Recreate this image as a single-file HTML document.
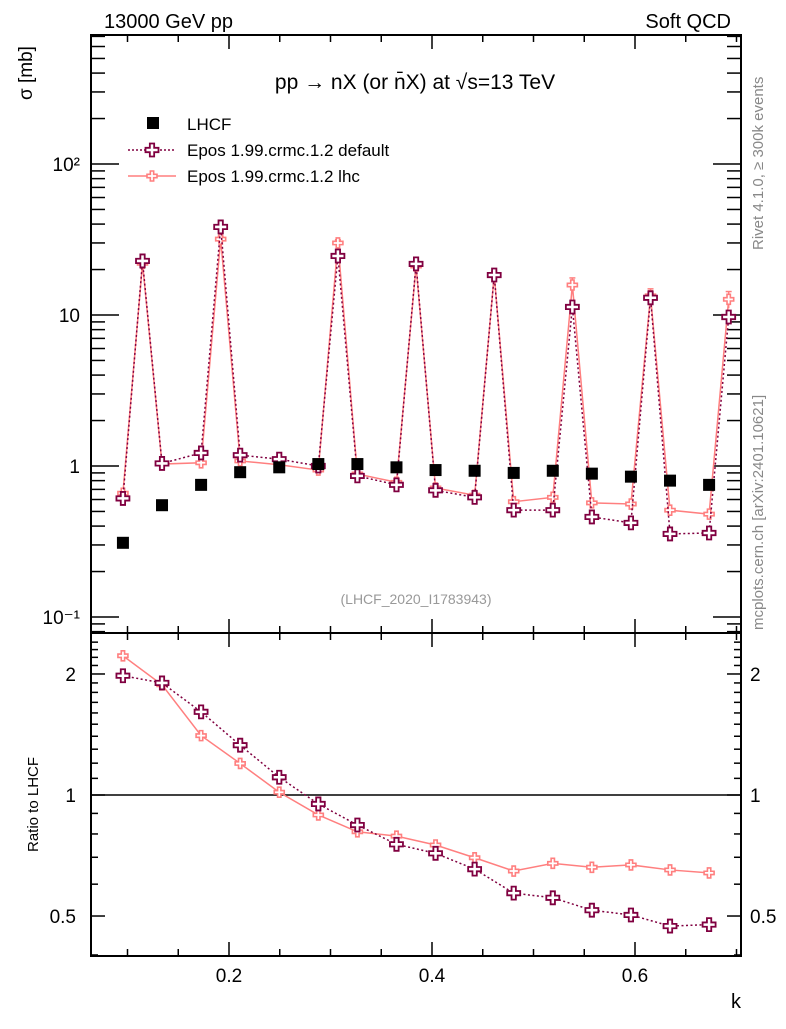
<!DOCTYPE html>
<html><head><meta charset="utf-8"><style>
body{margin:0;background:#fff}
svg text{font-family:"Liberation Sans","DejaVu Sans",sans-serif}
</style></head><body>
<svg id="c" width="786" height="1024" xmlns="http://www.w3.org/2000/svg">
<text x="104" y="28" font-size="20">13000 GeV pp</text>
<text x="731" y="28" font-size="20" text-anchor="end">Soft QCD</text>
<text x="415" y="89" font-size="21" text-anchor="middle">pp → nX (or n̄X) at √s=13 TeV</text>
<text transform="translate(32,100) rotate(-90)" font-size="19">σ [mb]</text>
<text transform="translate(38,852) rotate(-90)" font-size="15">Ratio to LHCF</text>
<text x="741" y="1008" font-size="20" text-anchor="end">k</text>
<text transform="translate(763,250) rotate(-90)" font-size="15" fill="#888">Rivet 4.1.0, ≥ 300k events</text>
<text transform="translate(763,630) rotate(-90)" font-size="15" fill="#888">mcplots.cern.ch [arXiv:2401.10621]</text>
<text x="416" y="604" font-size="14" fill="#999" text-anchor="middle">(LHCF_2020_I1783943)</text>
<g id="legend">
<rect x="147" y="117" width="12" height="12" fill="#000"/>
<text x="187" y="130" font-size="17">LHCF</text>
<line x1="128" y1="150" x2="176" y2="150" stroke="#800040" stroke-width="1.5" stroke-dasharray="2,2"/>
<text x="187" y="156" font-size="17">Epos 1.99.crmc.1.2 default</text>
<line x1="128" y1="176" x2="176" y2="176" stroke="#ff7f7f" stroke-width="1.5"/>
<text x="187" y="182" font-size="17">Epos 1.99.crmc.1.2 lhc</text>
</g>
</svg>
<script>
const dataK=[0.0955,0.134,0.1725,0.211,0.2495,0.288,0.3265,0.365,0.4035,0.442,0.4805,0.519,0.5575,0.596,0.6345,0.673];
const lhcfVals=[0.31,0.55,0.75,0.91,0.98,1.03,1.03,0.98,0.94,0.93,0.90,0.93,0.89,0.85,0.80,0.75];
const mcK=[0.0955,0.1148,0.134,0.1725,0.1918,0.211,0.2495,0.288,0.3073,0.3265,0.365,0.3843,0.4035,0.442,0.4613,0.4805,0.519,0.5383,0.5575,0.596,0.6153,0.6345,0.673,0.6923];
const defVals=[0.61,22.8,1.04,1.22,38.3,1.18,1.11,1.0,24.6,0.86,0.75,21.8,0.69,0.62,18.4,0.51,0.51,11.3,0.46,0.42,13,0.355,0.36,9.7];
const lhcVals=[0.66,22,1.03,1.05,31.8,1.08,1.02,0.94,30,0.885,0.78,21.1,0.715,0.64,18.4,0.58,0.62,15.8,0.57,0.56,13.4,0.51,0.48,12.7];
const lhcErr=[0,1,0,0,1.5,0,0,0,1.5,0,0,1,0,0,1,0,0,1.8,0,0,1.5,0,0,1.6];
const ratioDef=[1.98,1.90,1.61,1.33,1.107,0.95,0.842,0.754,0.716,0.654,0.57,0.555,0.517,0.503,0.472,0.476];
const ratioLhc=[2.22,1.88,1.405,1.198,1.016,0.892,0.81,0.79,0.751,0.698,0.647,0.676,0.661,0.670,0.651,0.64];
const xTicks=[0.2,0.4,0.6];
const xTickLabels=["0.2","0.4","0.6"];
const mainYLabels=[[100,"10²"],[10,"10"],[1,"1"],[0.1,"10⁻¹"]];
const ratioYLabels=[[2,"2"],[1,"1"],[0.5,"0.5"]];

const NS="http://www.w3.org/2000/svg",svg=document.getElementById('c');
const L=91,R=741,T=35,M=633,B=956;
const X=k=>229+(k-0.2)*1015;
const Y=v=>466-151*Math.log10(v);
const YR=r=>795-402*Math.log10(r);
function el(t,a,p){const e=document.createElementNS(NS,t);for(const k in a)e.setAttribute(k,a[k]);(p||svg).appendChild(e);return e;}
let f1=el('rect',{x:L,y:T,width:R-L,height:M-T,fill:'none',stroke:'#000','stroke-width':2});


let f2=el('rect',{x:L,y:M,width:R-L,height:B-M,fill:'none',stroke:'#000','stroke-width':2});


const ticks=el('g',{stroke:'#000','stroke-width':1.5});


for(let i=2;i<=14;i++){const k=i*0.05,x=X(k);if(x<L||x>R)continue;const maj=(i%4==0);const len=maj?14:7;
 for(const [y0,d] of [[T,1],[M,-1],[M,1],[B,-1]]) el('line',{x1:x,y1:y0,x2:x,y2:y0+d*len},ticks);}
for(let e=-2;e<=3;e++)for(let m=1;m<10;m++){const v=m*Math.pow(10,e),y=Y(v);if(y<T||y>M)continue;const len=m==1?28:14;
 el('line',{x1:L,y1:y,x2:L+len,y2:y},ticks);el('line',{x1:R,y1:y,x2:R-len,y2:y},ticks);}
for(let r=0.4;r<=2.5;r+=0.1){const rr=Math.round(r*10)/10,y=YR(rr);if(y<M||y>B)continue;const maj=(rr==0.5||rr==1||rr==2);const len=maj?14:7;
 el('line',{x1:L,y1:y,x2:L+len,y2:y},ticks);el('line',{x1:R,y1:y,x2:R-len,y2:y},ticks);}
xTicks.forEach((k,i)=>{const t=el('text',{x:X(k),y:982,'font-size':19,'text-anchor':'middle'});t.textContent=xTickLabels[i];

});
mainYLabels.forEach(([v,s])=>{const t=el('text',{x:80,y:Y(v)+7,'font-size':19,'text-anchor':'end'});t.textContent=s;

});
ratioYLabels.forEach(([v,s])=>{const t=el('text',{x:76,y:YR(v)+7,'font-size':19,'text-anchor':'end'});t.textContent=s;


const t2=el('text',{x:750,y:YR(v)+7,'font-size':19});t2.textContent=s;

});
let one=el('line',{x1:L,y1:YR(1),x2:R,y2:YR(1),stroke:'#000','stroke-width':1.5});


function cross(g,x,y,s,col,w){const a=s/3,b=s/2;
 const d=`M${x-a/2},${y-b}h${a}v${b-a/2}h${b-a/2}v${a}h${-(b-a/2)}v${b-a/2}h${-a}v${-(b-a/2)}h${-(b-a/2)}v${-a}h${b-a/2}z`;
 const p=el('path',{d:d,fill:'#fff',stroke:col,'stroke-width':w},g);
 
 }
function series(ks,vals,yf,col,dash,size,w,name,errs){const g=el('g',{});
 
 
 const pts=ks.map((k,i)=>X(k)+','+yf(vals[i])).join(' ');
 const a={points:pts,fill:'none',stroke:col,'stroke-width':1.5};if(dash)a['stroke-dasharray']='2,2.5';
 el('polyline',a,g);
 if(errs)ks.forEach((k,i)=>{if(!errs[i])return;const x=X(k),y1=yf(vals[i]+errs[i]),y2=yf(vals[i]-errs[i]);
  el('line',{x1:x,y1:y1,x2:x,y2:y2,stroke:col,'stroke-width':1.5},g);
  el('line',{x1:x-3,y1:y1,x2:x+3,y2:y1,stroke:col,'stroke-width':1.5},g);});
 ks.forEach((k,i)=>cross(g,X(k),yf(vals[i]),size,col,w));}
series(mcK,lhcVals,Y,'#ff7f7f',false,10,1.6,'series-lhc',lhcErr);
series(mcK,defVals,Y,'#800040',true,13,1.8,'series-default');
series(dataK,ratioLhc,YR,'#ff7f7f',false,10,1.6,'ratio-lhc');
series(dataK,ratioDef,YR,'#800040',true,13,1.8,'ratio-default');
const gd=el('g',{});


dataK.forEach((k,i)=>{const r=el('rect',{x:X(k)-6,y:Y(lhcfVals[i])-6,width:12,height:12,fill:'#000'},gd);

});
cross(document.getElementById('legend'),152,150,13,'#800040',1.8);
cross(document.getElementById('legend'),152,176,10,'#ff7f7f',1.6);
</script>
</body></html>
